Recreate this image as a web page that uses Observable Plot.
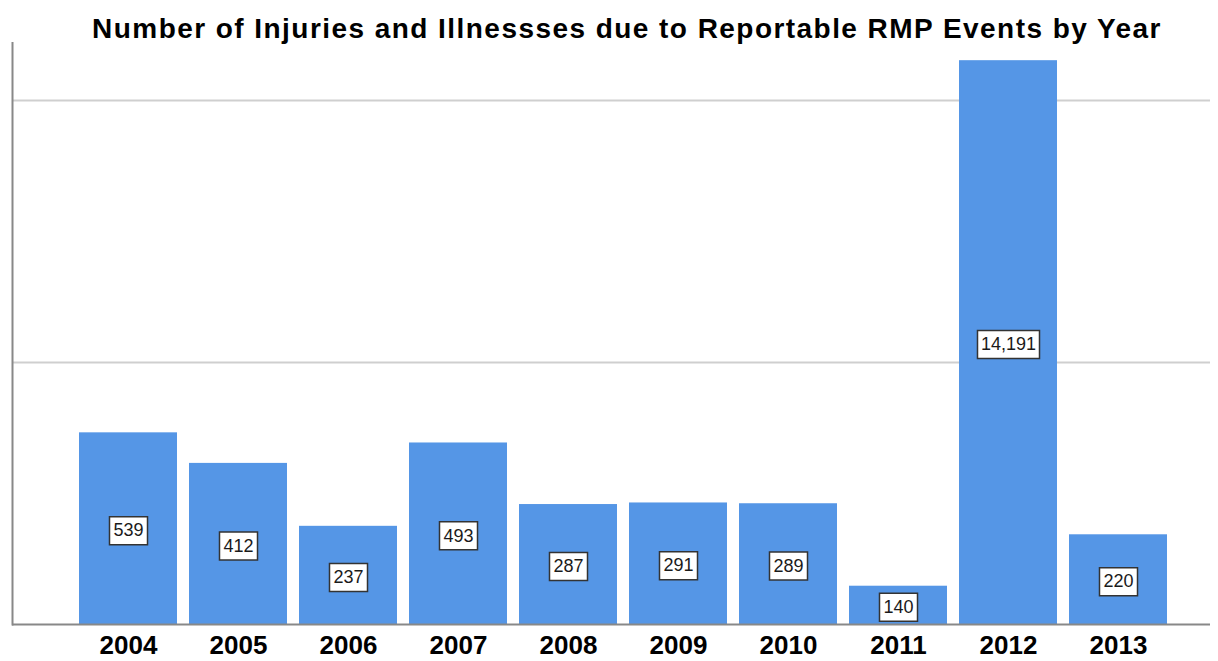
<!DOCTYPE html>
<html>
<head>
<meta charset="utf-8">
<script src="https://cdn.jsdelivr.net/npm/d3@7"></script>
<script src="https://cdn.jsdelivr.net/npm/@observablehq/plot@0.6"></script>
<style>
  html, body { margin: 0; padding: 0; background: #fff; }
  #title { font-family: "Liberation Sans", Arial, sans-serif; font-weight: bold; font-size: 28px; color: #000;
           letter-spacing: 1.45px; height: 42px; line-height: 58px; text-align: center; padding-left: 36px; white-space: nowrap; }
  #chart svg { display: block; }
</style>
</head>
<body>
<div id="title">Number of Injuries and Illnessses due to Reportable RMP Events by Year</div>
<div id="chart"></div>
<script>
const years = ["2004","2005","2006","2007","2008","2009","2010","2011","2012","2013"];
const injuries = [539, 412, 237, 493, 287, 291, 289, 140, 14191, 220];
const gridValues = [1000, 10000];
const baseline = 100;
const yTop = 16650;

const data = years.map((year, i) => ({year, value: injuries[i], label: d3.format(",")(injuries[i])}));

function boxSymbol(w, h) {
  return { draw(context) { context.rect(-w / 2, -h / 2, w, h); } };
}

const short = data.filter(d => d.label.length <= 3);
const long = data.filter(d => d.label.length > 3);
const mid = d => Math.sqrt(baseline * d.value);

const chart = Plot.plot({
  width: 1218,
  height: 619,
  marginTop: 0,
  marginLeft: 12,
  marginRight: 8,
  marginBottom: 37,
  style: { fontFamily: "'Liberation Sans', Arial, sans-serif", background: "#fff" },
  x: { domain: years, range: [73, 1173], paddingInner: 0.11, paddingOuter: 0.055, label: null },
  y: { type: "log", domain: [baseline, yTop], axis: null },
  marks: [
    Plot.ruleY(gridValues, { stroke: "#cfcfcf", strokeWidth: 2 }),
    Plot.barY(data, { x: "year", y1: () => baseline, y2: "value", fill: "#5596e6", inset: 0 }),
    Plot.dot(short, { x: "year", y: mid, dy: 2, symbol: boxSymbol(38, 28), fill: "#fff", stroke: "#333", strokeWidth: 1.5 }),
    Plot.dot(long, { x: "year", y: mid, dy: 2, symbol: boxSymbol(62, 28), fill: "#fff", stroke: "#333", strokeWidth: 1.5 }),
    Plot.text(data, { x: "year", y: mid, dy: 2, text: "label", fontSize: 18, fill: "#1a1a1a" }),
    Plot.ruleY([baseline], { stroke: "#888", strokeWidth: 2 }),
    Plot.frame({ anchor: "left", stroke: "#888", strokeWidth: 2 }),
    Plot.axisX({ tickSize: 0, tickPadding: 11, fontSize: 26, fontWeight: "bold", fill: "#000", label: null })
  ]
});
document.getElementById("chart").appendChild(chart);
</script>
</body>
</html>
